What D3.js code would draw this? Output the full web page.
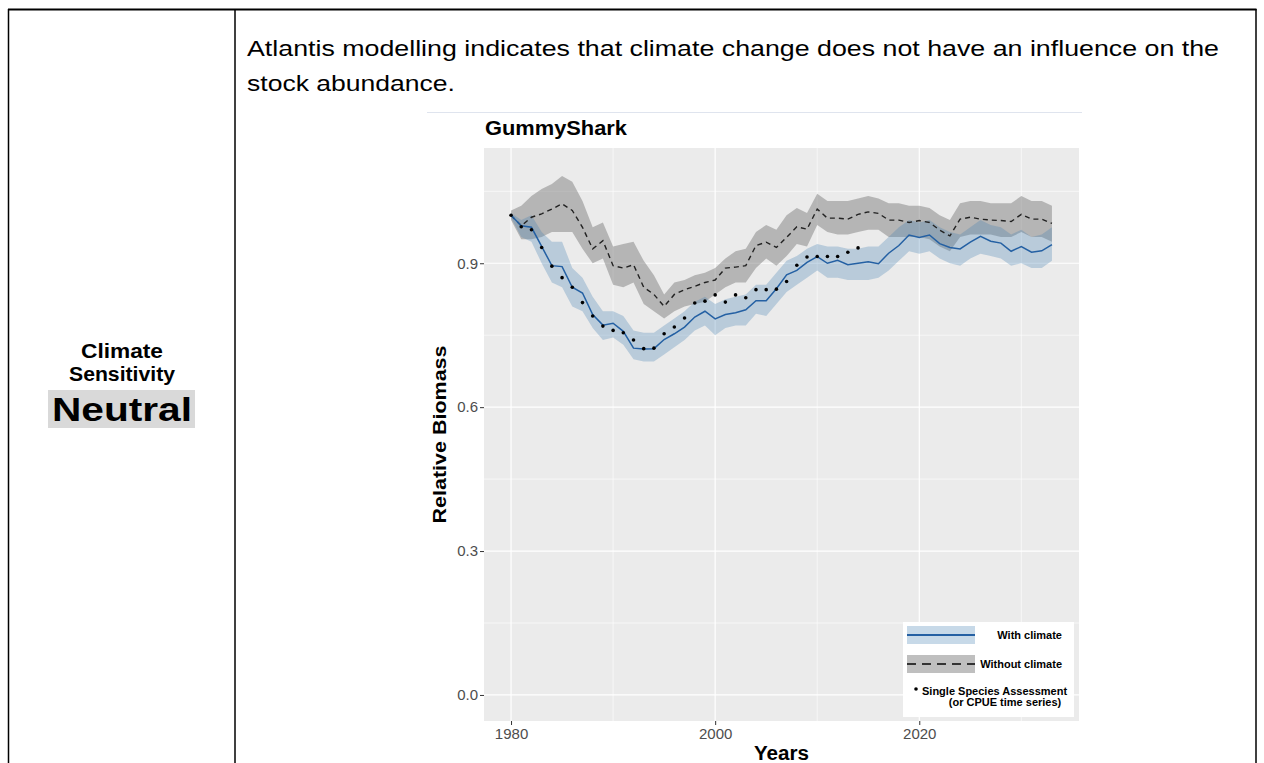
<!DOCTYPE html>
<html>
<head>
<meta charset="utf-8">
<script src="https://cdn.jsdelivr.net/npm/d3@7"></script>
<style>
  html, body { margin: 0; padding: 0; background: #fff; }
  svg { display: block; font-family: "Liberation Sans", Arial, sans-serif; }
</style>
</head>
<body>
<svg id="page" width="1264" height="763"></svg>
<script>
// Model years
const years = [1980,1981,1982,1983,1984,1985,1986,1987,1988,1989,
  1990,1991,1992,1993,1994,1995,1996,1997,1998,1999,
  2000,2001,2002,2003,2004,2005,2006,2007,2008,2009,
  2010,2011,2012,2013,2014,2015,2016,2017,2018,2019,
  2020,2021,2022,2023,2024,2025,2026,2027,2028,2029,
  2030,2031,2032,2033];

// Relative biomass, Atlantis run with climate change (median and band)
const withClimate = [1.000,0.978,0.975,0.935,0.895,0.893,0.850,0.838,0.793,0.771,
  0.775,0.758,0.723,0.721,0.722,0.741,0.753,0.767,0.788,0.800,
  0.784,0.793,0.797,0.803,0.822,0.822,0.847,0.876,0.885,0.902,
  0.914,0.900,0.906,0.897,0.900,0.903,0.899,0.921,0.937,0.959,
  0.954,0.959,0.941,0.933,0.930,0.944,0.956,0.946,0.942,0.925,
  0.935,0.923,0.926,0.939];
const withClimateLo = [0.995,0.955,0.945,0.900,0.860,0.850,0.810,0.800,0.765,0.740,
  0.745,0.730,0.700,0.695,0.695,0.710,0.725,0.740,0.760,0.770,
  0.750,0.765,0.770,0.770,0.795,0.790,0.815,0.840,0.855,0.870,
  0.885,0.870,0.870,0.865,0.865,0.865,0.870,0.885,0.905,0.925,
  0.920,0.925,0.910,0.900,0.895,0.910,0.920,0.915,0.910,0.895,
  0.900,0.890,0.890,0.905];
const withClimateHi = [1.005,0.990,1.000,0.965,0.945,0.945,0.890,0.870,0.830,0.800,
  0.800,0.790,0.760,0.755,0.755,0.770,0.785,0.800,0.820,0.830,
  0.815,0.825,0.830,0.835,0.855,0.855,0.880,0.905,0.915,0.930,
  0.940,0.935,0.935,0.930,0.930,0.935,0.935,0.955,0.975,0.990,
  0.985,0.990,0.975,0.965,0.960,0.975,0.990,0.980,0.975,0.960,
  0.970,0.955,0.960,0.975];

// Relative biomass, Atlantis run without climate change (median and band)
const withoutClimate = [1.000,0.978,0.996,1.003,1.013,1.024,1.010,0.975,0.930,0.947,
  0.895,0.890,0.897,0.850,0.835,0.810,0.835,0.845,0.852,0.860,
  0.865,0.890,0.892,0.895,0.937,0.944,0.933,0.954,0.976,0.971,
  1.013,0.994,0.994,0.992,1.002,1.007,1.004,0.990,0.990,0.985,
  0.989,0.985,0.969,0.957,0.992,0.996,0.992,0.990,0.989,0.987,
  1.002,0.992,0.992,0.983];
const withoutClimateLo = [0.990,0.950,0.950,0.955,0.965,0.965,0.965,0.930,0.900,0.910,
  0.855,0.850,0.860,0.815,0.800,0.785,0.800,0.810,0.815,0.820,
  0.835,0.850,0.860,0.860,0.890,0.910,0.895,0.915,0.940,0.935,
  0.980,0.965,0.960,0.960,0.965,0.970,0.970,0.955,0.955,0.955,
  0.955,0.950,0.935,0.925,0.955,0.960,0.960,0.960,0.955,0.955,
  0.965,0.955,0.955,0.945];
const withoutClimateHi = [1.010,1.020,1.040,1.055,1.065,1.082,1.070,1.030,0.975,0.985,
  0.935,0.940,0.945,0.905,0.875,0.835,0.860,0.865,0.875,0.880,
  0.890,0.910,0.925,0.930,0.965,0.980,0.970,1.000,1.015,1.005,
  1.045,1.030,1.030,1.030,1.035,1.040,1.035,1.025,1.025,1.020,
  1.020,1.015,1.000,0.990,1.025,1.030,1.030,1.025,1.025,1.025,
  1.040,1.030,1.030,1.020];

// Single species assessment (CPUE) points
const assessYears = [1980,1981,1982,1983,1984,1985,1986,1987,1988,1989,
  1990,1991,1992,1993,1994,1995,1996,1997,1998,1999,
  2000,2001,2002,2003,2004,2005,2006,2007,2008,2009,
  2010,2011,2012,2013,2014];
const assessment = [1.000,0.976,0.970,0.933,0.894,0.870,0.850,0.818,0.790,0.769,
  0.760,0.755,0.740,0.722,0.723,0.753,0.767,0.786,0.817,0.821,
  0.834,0.819,0.834,0.828,0.845,0.845,0.846,0.862,0.896,0.913,
  0.914,0.914,0.914,0.923,0.932];

const xMajor = [1980, 2000, 2020];
const xMinor = [1990, 2010, 2030];
const yMajor = [0.0, 0.3, 0.6, 0.9];
const yMinor = [0.15, 0.45, 0.75, 1.05];
const yTickLabels = ["0.0", "0.3", "0.6", "0.9"];

const legendItems = ["With climate", "Without climate"];
const pointLegend = ["Single Species Assessment", "(or CPUE time series)"];

const svg = d3.select("#page");

// ---- table frame ----
const frame = svg.append("g").attr("stroke", "#000").attr("stroke-width", 1.5);
frame.append("line").attr("x1", 8).attr("x2", 1256.5).attr("y1", 9.5).attr("y2", 9.5).attr("stroke-width", 2);
frame.append("line").attr("x1", 8.5).attr("x2", 8.5).attr("y1", 9).attr("y2", 763);
frame.append("line").attr("x1", 235).attr("x2", 235).attr("y1", 9).attr("y2", 763);
frame.append("line").attr("x1", 1256).attr("x2", 1256).attr("y1", 9).attr("y2", 763);

// left cell: sensitivity rating
svg.append("text").attr("x", 122).attr("y", 358).attr("text-anchor", "middle")
  .attr("font-weight", "bold").attr("font-size", 20)
  .attr("textLength", 82).attr("lengthAdjust", "spacingAndGlyphs").text("Climate");
svg.append("text").attr("x", 122).attr("y", 381).attr("text-anchor", "middle")
  .attr("font-weight", "bold").attr("font-size", 20)
  .attr("textLength", 106).attr("lengthAdjust", "spacingAndGlyphs").text("Sensitivity");
svg.append("rect").attr("x", 48).attr("y", 390).attr("width", 147).attr("height", 38).attr("fill", "#d9d9d9");
svg.append("text").attr("x", 122).attr("y", 421).attr("text-anchor", "middle")
  .attr("font-weight", "bold").attr("font-size", 34)
  .attr("textLength", 140).attr("lengthAdjust", "spacingAndGlyphs").text("Neutral");

// right cell: description
svg.append("text").attr("x", 247).attr("y", 56).attr("font-size", 22)
  .attr("textLength", 972).attr("lengthAdjust", "spacingAndGlyphs")
  .text("Atlantis modelling indicates that climate change does not have an influence on the");
svg.append("text").attr("x", 247).attr("y", 91).attr("font-size", 22)
  .attr("textLength", 208).attr("lengthAdjust", "spacingAndGlyphs")
  .text("stock abundance.");

// ---- chart ----
svg.append("line").attr("x1", 427).attr("x2", 1082).attr("y1", 112.5).attr("y2", 112.5)
  .attr("stroke", "#dfe4ee").attr("stroke-width", 1);

const panel = { left: 484, right: 1079, top: 148, bottom: 721 };
const x = d3.scaleLinear().domain([1977.35, 2035.65]).range([panel.left, panel.right]);
const y = d3.scaleLinear().domain([-0.0543, 1.1403]).range([panel.bottom, panel.top]);

const chart = svg.append("g");
chart.append("rect").attr("x", panel.left).attr("y", panel.top)
  .attr("width", panel.right - panel.left).attr("height", panel.bottom - panel.top).attr("fill", "#ebebeb");

// gridlines
chart.selectAll(".gxm").data(xMinor).join("line")
  .attr("x1", d => x(d)).attr("x2", d => x(d)).attr("y1", panel.top).attr("y2", panel.bottom)
  .attr("stroke", "#fff").attr("stroke-width", 0.6);
chart.selectAll(".gym").data(yMinor).join("line")
  .attr("y1", d => y(d)).attr("y2", d => y(d)).attr("x1", panel.left).attr("x2", panel.right)
  .attr("stroke", "#fff").attr("stroke-width", 0.6);
chart.selectAll(".gxM").data(xMajor).join("line")
  .attr("x1", d => x(d)).attr("x2", d => x(d)).attr("y1", panel.top).attr("y2", panel.bottom)
  .attr("stroke", "#fff").attr("stroke-width", 1.2);
chart.selectAll(".gyM").data(yMajor).join("line")
  .attr("y1", d => y(d)).attr("y2", d => y(d)).attr("x1", panel.left).attr("x2", panel.right)
  .attr("stroke", "#fff").attr("stroke-width", 1.2);

// ribbons
const band = (lo, hi) => d3.area()
  .x((d, i) => x(years[i])).y0((d, i) => y(lo[i])).y1((d, i) => y(hi[i]))(years);
chart.append("path").attr("d", band(withoutClimateLo, withoutClimateHi))
  .attr("fill", "#7f7f7f").attr("fill-opacity", 0.5);
chart.append("path").attr("d", band(withClimateLo, withClimateHi))
  .attr("fill", "#4682b4").attr("fill-opacity", 0.3);

// lines
const line = vals => d3.line().x((d, i) => x(years[i])).y((d, i) => y(vals[i]))(years);
chart.append("path").attr("d", line(withoutClimate))
  .attr("fill", "none").attr("stroke", "#222").attr("stroke-width", 1.4).attr("stroke-dasharray", "5,4");
chart.append("path").attr("d", line(withClimate))
  .attr("fill", "none").attr("stroke", "#2460a3").attr("stroke-width", 1.5);

// assessment points
chart.selectAll(".pt").data(assessment).join("circle")
  .attr("cx", (d, i) => x(assessYears[i])).attr("cy", d => y(d)).attr("r", 1.8).attr("fill", "#000");

// axes
const xAxis = d3.axisBottom(x).tickValues(xMajor).tickFormat(d3.format("d")).tickSize(4).tickPadding(3);
const gx = svg.append("g").attr("transform", `translate(0,${panel.bottom})`).call(xAxis);
const yAxis = d3.axisLeft(y).tickValues(yMajor).tickFormat((d, i) => yTickLabels[i]).tickSize(4).tickPadding(2);
const gy = svg.append("g").attr("transform", `translate(${panel.left},0)`).call(yAxis);
[gx, gy].forEach(g => {
  g.select(".domain").remove();
  g.selectAll(".tick line").attr("stroke", "#333").attr("stroke-width", 1);
  g.selectAll(".tick text").attr("fill", "#4d4d4d").attr("font-size", 15)
    .attr("font-family", "Liberation Sans, Arial, sans-serif");
});

// titles
svg.append("text").attr("x", 485).attr("y", 135).attr("font-weight", "bold").attr("font-size", 21)
  .attr("textLength", 142).attr("lengthAdjust", "spacingAndGlyphs").text("GummyShark");
svg.append("text").attr("x", (panel.left + panel.right) / 2).attr("y", 760).attr("text-anchor", "middle")
  .attr("font-weight", "bold").attr("font-size", 20).attr("textLength", 55).attr("lengthAdjust", "spacingAndGlyphs").text("Years");
svg.append("text").attr("transform", `translate(446,${(panel.top + panel.bottom) / 2}) rotate(-90)`)
  .attr("text-anchor", "middle").attr("font-weight", "bold").attr("font-size", 19)
  .attr("textLength", 178).attr("lengthAdjust", "spacingAndGlyphs").text("Relative Biomass");

// legend
const lg = svg.append("g").attr("transform", "translate(903,622)");
lg.append("rect").attr("width", 171).attr("height", 95).attr("fill", "#fff");
lg.append("rect").attr("x", 4).attr("y", 4).attr("width", 68).attr("height", 18).attr("fill", "#4682b4").attr("fill-opacity", 0.3);
lg.append("line").attr("x1", 4).attr("x2", 72).attr("y1", 13).attr("y2", 13).attr("stroke", "#2460a3").attr("stroke-width", 2);
lg.append("rect").attr("x", 4).attr("y", 33).attr("width", 68).attr("height", 18).attr("fill", "#7f7f7f").attr("fill-opacity", 0.5);
lg.append("line").attr("x1", 4).attr("x2", 72).attr("y1", 42).attr("y2", 42).attr("stroke", "#333").attr("stroke-width", 2).attr("stroke-dasharray", "9,6");
lg.selectAll(".lt").data(legendItems).join("text")
  .attr("x", 159).attr("y", (d, i) => 17 + i * 29).attr("text-anchor", "end")
  .attr("font-weight", "bold").attr("font-size", 11).text(d => d);
lg.append("circle").attr("cx", 13).attr("cy", 67).attr("r", 1.8).attr("fill", "#000");
lg.append("text").attr("x", 19).attr("y", 73).attr("font-weight", "bold").attr("font-size", 11).text(pointLegend[0]);
lg.append("text").attr("x", 102).attr("y", 84).attr("text-anchor", "middle").attr("font-weight", "bold").attr("font-size", 11).text(pointLegend[1]);
</script>
</body>
</html>
